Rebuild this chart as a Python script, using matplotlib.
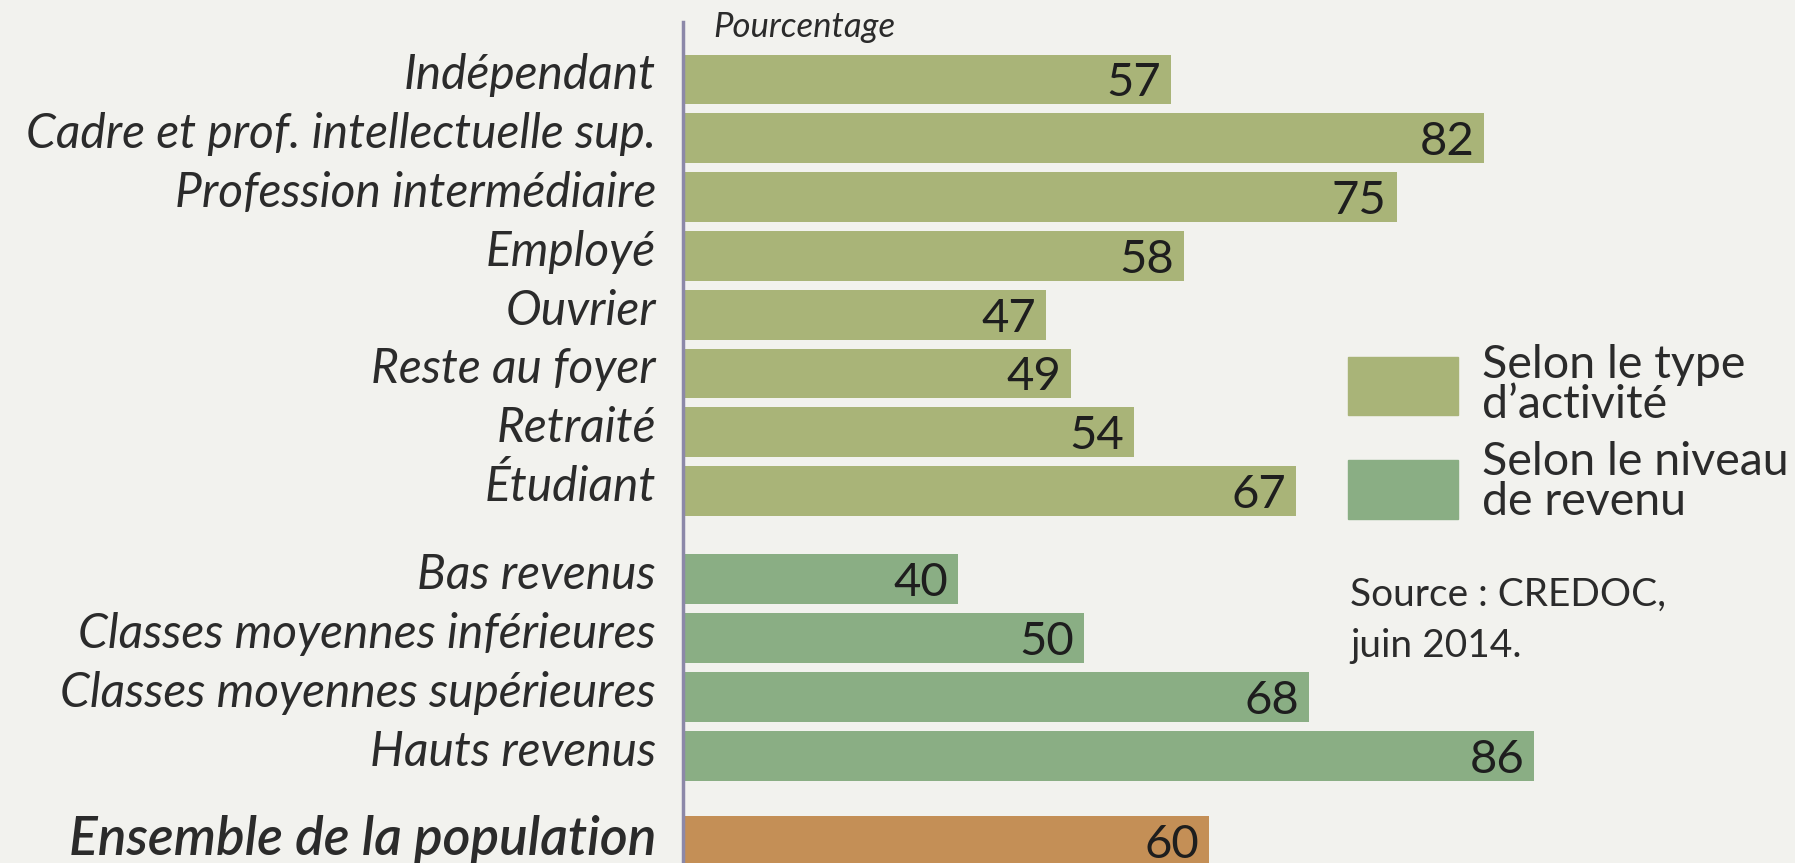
import matplotlib
matplotlib.use("Agg")
import matplotlib.pyplot as plt
from matplotlib.patches import Rectangle
from matplotlib.transforms import offset_copy, blended_transform_factory

# ---- data ----
activity_labels = ["Indépendant", "Cadre et prof. intellectuelle sup.", "Profession intermédiaire",
                   "Employé", "Ouvrier", "Reste au foyer", "Retraité", "Étudiant"]
activity_values = [57, 82, 75, 58, 47, 49, 54, 67]
income_labels = ["Bas revenus", "Classes moyennes inférieures", "Classes moyennes supérieures",
                 "Hauts revenus"]
income_values = [40, 50, 68, 86]
total_label = "Ensemble de la population"
total_value = 60
legend_labels = ["Selon le type\nd\u2019activité", "Selon le niveau\nde revenu"]
source_text = "Source : CREDOC,\njuin 2014."
axis_title = "Pourcentage"

# ---- style ----
W, H = 1795, 863
BG = "#f2f2ee"
C_ACT = "#a9b478"
C_INC = "#8aae84"
C_TOT = "#c48f56"
TXT = "#2b2b2b"
AXC = "#8c88a8"
FAM = ["Lato", "DejaVu Sans"]
plt.rcParams["font.family"] = FAM

fig = plt.figure(figsize=(W / 100, H / 100), dpi=100, facecolor=BG)
ax_left = 683 / W
ax = fig.add_axes([ax_left, 0, 1 - ax_left, 1])
ax.set_facecolor(BG)

# positions (layout)
act_pos = list(range(len(activity_labels)))
inc_pos = [len(activity_labels) + 0.5 + i for i in range(len(income_labels))]
tot_pos = inc_pos[-1] + 1.45

bh = 0.85
ax.barh(act_pos, activity_values, height=bh, color=C_ACT, left=0)
ax.barh(inc_pos, income_values, height=bh, color=C_INC, left=0)
ax.barh([tot_pos], [total_value], height=bh, color=C_TOT, left=0)

pitch = 58.8
y0 = 79.5
ax.set_ylim(-y0 / pitch + (H / pitch), -y0 / pitch)
ax.set_xlim(18, 18 + (W - 683) / 12.52)
ax.axis("off")

# value labels
num_tr = offset_copy(ax.transData, fig=fig, x=-10, y=-17, units="dots")
for p, v in list(zip(act_pos, activity_values)) + list(zip(inc_pos, income_values)) + [(tot_pos, total_value)]:
    ax.text(v, p, str(v), transform=num_tr, ha="right", va="baseline",
            fontsize=34, color="#1e1e1e")

# category labels
lab_tr = offset_copy(blended_transform_factory(ax.transAxes, ax.transData), fig=fig,
                     x=-27, y=-10, units="dots")
for p, lab in list(zip(act_pos, activity_labels)) + list(zip(inc_pos, income_labels)):
    ax.text(0, p, lab, transform=lab_tr, ha="right", va="baseline",
            fontsize=34.5, style="italic", color=TXT)
tot_tr = offset_copy(blended_transform_factory(ax.transAxes, ax.transData), fig=fig,
                     x=-27, y=-14, units="dots")
ax.text(0, tot_pos, total_label, transform=tot_tr, ha="right", va="baseline",
        fontsize=38.5, style="italic", fontweight="semibold", color=TXT)

# axis line
fig.add_artist(plt.Line2D([683 / W, 683 / W], [0, 1 - 22 / H], color=AXC, lw=2.5,
                          transform=fig.transFigure))

# axis title
fig.text(713 / W, 1 - 37 / H, axis_title, ha="left", va="baseline", fontsize=25,
         style="italic", color=TXT)

# legend
for (ytop, ybot), col in zip([(357, 415), (460, 519)], [C_ACT, C_INC]):
    fig.add_artist(Rectangle((1348 / W, 1 - ybot / H), 110 / W, (ybot - ytop) / H,
                             transform=fig.transFigure, color=col))
for ybase, lab in zip([378, 475], legend_labels):
    l1, l2 = lab.split("\n")
    fig.text(1482 / W, 1 - ybase / H, l1, ha="left", va="baseline", fontsize=33.5, color=TXT)
    fig.text(1482 / W, 1 - (ybase + 40) / H, l2, ha="left", va="baseline", fontsize=33.5, color=TXT)

# source
s1, s2 = source_text.split("\n")
fig.text(1350 / W, 1 - 606 / H, s1, ha="left", va="baseline", fontsize=28, color=TXT)
fig.text(1350 / W, 1 - 657 / H, s2, ha="left", va="baseline", fontsize=28, color=TXT)

fig.savefig("out.png", dpi=100, facecolor=BG)
